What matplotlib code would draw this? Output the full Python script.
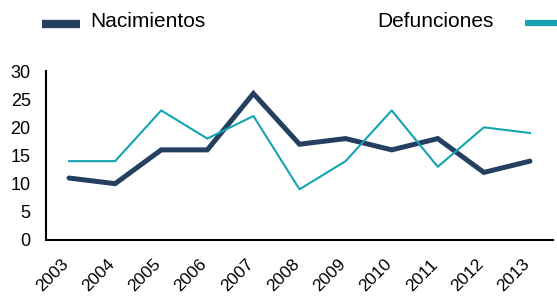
import matplotlib.pyplot as plt
import matplotlib.transforms as mtransforms
from matplotlib.lines import Line2D

plt.rcParams['font.family'] = ['Liberation Sans', 'DejaVu Sans']

years = ['2003', '2004', '2005', '2006', '2007', '2008', '2009', '2010', '2011', '2012', '2013']
nacimientos = [11, 10, 16, 16, 26, 17, 18, 16, 18, 12, 14]
defunciones = [14, 14, 23, 18, 22, 9, 14, 23, 13, 20, 19]

navy = '#243F60'
teal = '#14A3B1'

fig = plt.figure(figsize=(5.57, 2.97), dpi=100)
ax = fig.add_axes([46 / 557, 57 / 297, 507 / 557, 169 / 297])

x = range(len(years))
ax.plot(x, nacimientos, color=navy, lw=3.6, solid_capstyle='round', solid_joinstyle='miter')
ax.plot(x, defunciones, color=teal, lw=1.5)

ax.set_xlim(-0.5, len(years) - 0.5)
ax.set_ylim(0, 30)
ax.set_yticks(range(0, 31, 5))
ax.set_xticks(list(x))
ax.set_xticklabels(years, rotation=45, ha='right', va='top', rotation_mode='anchor')
ax.tick_params(axis='y', length=0, labelsize=13, colors='black', pad=11)
ax.tick_params(axis='x', length=0, labelsize=12.5, colors='black', pad=12)
shift = mtransforms.ScaledTranslation(-8 / 100, 0, fig.dpi_scale_trans)
for lbl in ax.get_xticklabels():
    lbl.set_transform(lbl.get_transform() + shift)
for s in ['top', 'right']:
    ax.spines[s].set_visible(False)
for s in ['left', 'bottom']:
    ax.spines[s].set_color('black')
    ax.spines[s].set_linewidth(1.5)

# legend drawn by hand, like the original layout
fig.add_artist(Line2D([42 / 557, 80 / 557], [1 - 23.5 / 297] * 2, color=navy, lw=6, solid_capstyle='butt'))
fig.text(90 / 557, 1 - 27 / 297, 'Nacimientos', fontsize=15, va='baseline', ha='left')
fig.text(377 / 557, 1 - 27 / 297, 'Defunciones', fontsize=15, va='baseline', ha='left')
fig.add_artist(Line2D([525 / 557, 1.0], [1 - 23 / 297] * 2, color=teal, lw=4.5, solid_capstyle='butt'))

fig.savefig('out.png', dpi=100)
